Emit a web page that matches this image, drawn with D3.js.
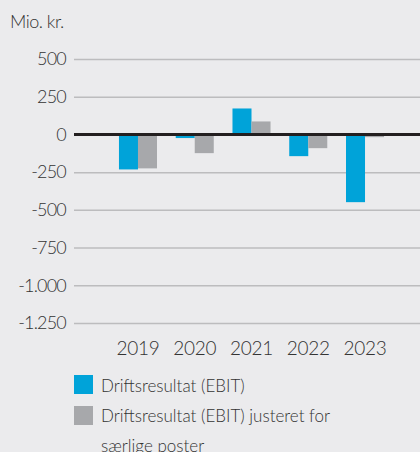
<!DOCTYPE html>
<html>
<head>
<meta charset="utf-8">
<script src="https://cdn.jsdelivr.net/npm/d3@7"></script>
<style>
  body { margin: 0; background: #ebebed; }
  svg { display: block; }
</style>
</head>
<body>
<div id="chart"></div>
<script>
"use strict";
let width = 420;
let height = 452;

// data (Mio. kr.)
let years = ["2019", "2020", "2021", "2022", "2023"];
let ebit = [-232, -24, 172, -144, -449];
let ebitAdjusted = [-225, -124, 86, -91, -18];
let yTicks = [500, 250, 0, -250, -500, -750, -1000, -1250];
let seriesNames = ["Driftsresultat (EBIT)", "Driftsresultat (EBIT) justeret for", "særlige poster"];

let blue = "#00a3d9";
let grey = "#a7a8ab";
let textCol = "#333333";
let font = "Lato, 'Open Sans', sans-serif";

let svg = d3.select("#chart")
    .append("svg")
    .attr("width", width)
    .attr("height", height);

svg.append("rect")
    .attr("width", width).attr("height", height)
    .attr("fill", "#ebebed");

let xScale = d3.scaleBand()
    .domain(years)
    .range([109.6, 393.4])
    .paddingInner(0.33)
    .paddingOuter(0.165);

let xSub = d3.scaleBand()
    .domain([0, 1])
    .range([0, xScale.bandwidth()]);

let yScale = d3.scaleLinear()
    .domain([-1250, 500])
    .range([323, 59]);

// unit label
svg.append("text")
    .attr("x", 10)
    .attr("y", 28)
    .style("font-family", font)
    .style("font-weight", 300)
    .style("font-size", "18px")
    .style("letter-spacing", "-0.5px")
    .attr("fill", textCol)
    .text("Mio. kr.");

// grid + y labels (hyphen minus, dot as thousands separator)
function fmt(d) {
    let s = String(Math.abs(d)).replace(/\B(?=(\d{3})+(?!\d))/g, ".");
    return d < 0 ? "-" + s : s;
}

let yAxis = d3.axisLeft(yScale)
    .tickValues(yTicks)
    .tickSize(-(width - 74))
    .tickPadding(8)
    .tickFormat(fmt);

let gy = svg.append("g")
    .attr("transform", "translate(74,0)")
    .call(yAxis);
gy.select(".domain").remove();
gy.selectAll(".tick line")
    .attr("stroke", "#bcbcbe")
    .attr("stroke-width", 1.5);
gy.selectAll(".tick text")
    .attr("x", -8)
    .attr("fill", textCol)
    .style("font-family", font)
    .style("font-weight", 300)
    .style("font-size", "18px")
    .style("letter-spacing", "-0.8px");

// bars
let groups = svg.selectAll(".year")
    .data(years)
    .enter()
    .append("g")
    .attr("transform", d => "translate(" + xScale(d) + ",0)");

groups.append("rect")
    .attr("x", xSub(0))
    .attr("width", xSub.bandwidth())
    .attr("y", (d, i) => yScale(Math.max(0, ebit[i])))
    .attr("height", (d, i) => Math.abs(yScale(ebit[i]) - yScale(0)))
    .attr("fill", blue);

groups.append("rect")
    .attr("x", xSub(1))
    .attr("width", xSub.bandwidth())
    .attr("y", (d, i) => yScale(Math.max(0, ebitAdjusted[i])))
    .attr("height", (d, i) => Math.abs(yScale(ebitAdjusted[i]) - yScale(0)))
    .attr("fill", grey);

// zero line
svg.append("line")
    .attr("x1", 74).attr("x2", width)
    .attr("y1", yScale(0)).attr("y2", yScale(0))
    .attr("stroke", "#231f20")
    .attr("stroke-width", 3);

// x labels
let xAxis = d3.axisBottom(xScale).tickSize(0).tickPadding(0);
let gx = svg.append("g")
    .attr("transform", "translate(0,341)")
    .call(xAxis);
gx.select(".domain").remove();
gx.selectAll(".tick text")
    .attr("dy", "0.71em")
    .attr("fill", textCol)
    .style("font-family", font)
    .style("font-weight", 300)
    .style("font-size", "19px")
    .style("letter-spacing", "-0.3px");

// legend
let legend = svg.append("g").attr("transform", "translate(74,375)");
legend.append("rect").attr("width", 19).attr("height", 19).attr("fill", blue);
legend.append("rect").attr("y", 31).attr("width", 19).attr("height", 19).attr("fill", grey);
legend.selectAll("text")
    .data(seriesNames)
    .enter()
    .append("text")
    .attr("x", 27)
    .attr("y", (d, i) => 17 + i * 30)
    .attr("fill", textCol)
    .style("font-family", font)
    .style("font-weight", 300)
    .style("font-size", "17px")
    .text(d => d);
</script>
</body>
</html>
